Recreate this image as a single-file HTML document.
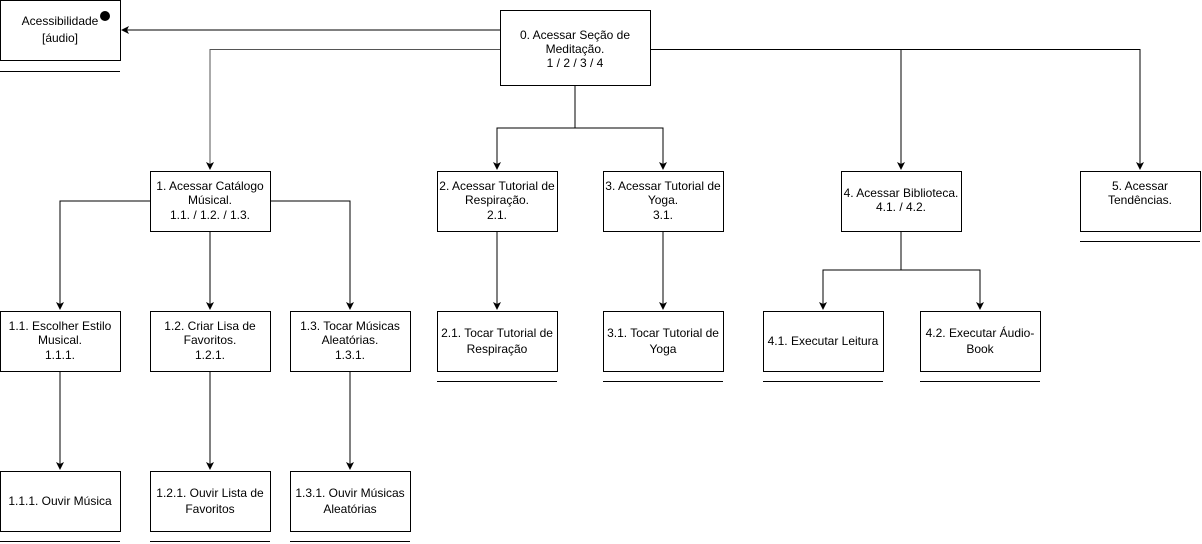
<!DOCTYPE html>
<html><head><meta charset="utf-8"><style>
body{margin:0;background:#fff;}
svg{display:block;font-family:"Liberation Sans",Arial,sans-serif;font-size:12px;}
</style></head><body>
<svg width="1202" height="544" viewBox="0 0 1202 544" xmlns="http://www.w3.org/2000/svg">
<defs><marker id="a" markerWidth="8" markerHeight="8" refX="7" refY="4" orient="auto" markerUnits="userSpaceOnUse"><path d="M0,0 L8,4 L0,8 L2,4 z" fill="#000"/></marker></defs>
<g fill="none" stroke="#000" stroke-width="1">
<path d="M500,30 H122" marker-end="url(#a)"/>
<path d="M500,49.5 H210 V169" marker-end="url(#a)" stroke="#555"/>
<path d="M650,49.5 H1140 V169" marker-end="url(#a)"/>
<path d="M901,49.5 V169" marker-end="url(#a)"/>
<path d="M575,85 V128 H497 V169" marker-end="url(#a)"/>
<path d="M575,128 H663 V169" marker-end="url(#a)"/>
<path d="M150,201 H60 V309" marker-end="url(#a)"/>
<path d="M270,201 H350 V309" marker-end="url(#a)"/>
<path d="M210,231 V309" marker-end="url(#a)"/>
<path d="M60,371 V469" marker-end="url(#a)"/>
<path d="M210,371 V469" marker-end="url(#a)"/>
<path d="M350,371 V469" marker-end="url(#a)"/>
<path d="M497,231 V309" marker-end="url(#a)"/>
<path d="M663,231 V309" marker-end="url(#a)"/>
<path d="M901,231 V270 H823 V309" marker-end="url(#a)"/>
<path d="M901,270 H980 V309" marker-end="url(#a)"/>
</g>
<g fill="#fff" stroke="#000">
<rect x="0.5" y="0.5" width="120" height="60"/>
<rect x="500.5" y="10.5" width="150" height="75"/>
<rect x="150.5" y="171.5" width="120" height="60"/>
<rect x="437.5" y="171.5" width="120" height="60"/>
<rect x="603.5" y="171.5" width="120" height="60"/>
<rect x="841.5" y="171.5" width="120" height="60"/>
<rect x="1080.5" y="171.5" width="120" height="60"/>
<rect x="0.5" y="311.5" width="120" height="60"/>
<rect x="150.5" y="311.5" width="120" height="60"/>
<rect x="290.5" y="311.5" width="120" height="60"/>
<rect x="437.5" y="311.5" width="120" height="60"/>
<rect x="603.5" y="311.5" width="120" height="60"/>
<rect x="763.5" y="311.5" width="120" height="60"/>
<rect x="920.5" y="311.5" width="120" height="60"/>
<rect x="0.5" y="471.5" width="120" height="60"/>
<rect x="150.5" y="471.5" width="120" height="60"/>
<rect x="290.5" y="471.5" width="120" height="60"/>
</g>
<g stroke="#000">
<path d="M0,71.5H120M1080,241.5H1200M437,381.5H557M603,381.5H723M763,381.5H883M920,381.5H1040M0,541.5H120M150,541.5H270M290,541.5H410"/>
</g>
<circle cx="105" cy="16" r="5" fill="#000"/>
<g text-anchor="middle" fill="#000">
<text x="60" y="25">Acessibilidade</text><text x="60" y="42">[áudio]</text>
<text x="575" y="39">0. Acessar Seção de</text><text x="575" y="53">Meditação.</text><text x="575" y="67">1 / 2 / 3 / 4</text>
<text x="210" y="190">1. Acessar Catálogo</text><text x="210" y="204">Músical.</text><text x="210" y="219">1.1. / 1.2. / 1.3.</text>
<text x="497" y="190">2. Acessar Tutorial de</text><text x="497" y="204">Respiração.</text><text x="497" y="219">2.1.</text>
<text x="663" y="190">3. Acessar Tutorial de</text><text x="663" y="204">Yoga.</text><text x="663" y="219">3.1.</text>
<text x="901" y="197">4. Acessar Biblioteca.</text><text x="901" y="211">4.1. / 4.2.</text>
<text x="1140" y="190">5. Acessar</text><text x="1140" y="204">Tendências.</text>
<text x="60" y="330">1.1. Escolher Estilo</text><text x="60" y="344">Musical.</text><text x="60" y="359">1.1.1.</text>
<text x="210" y="330">1.2. Criar Lisa de</text><text x="210" y="344">Favoritos.</text><text x="210" y="359">1.2.1.</text>
<text x="350" y="330">1.3. Tocar Músicas</text><text x="350" y="344">Aleatórias.</text><text x="350" y="359">1.3.1.</text>
<text x="497" y="337">2.1. Tocar Tutorial de</text><text x="497" y="353">Respiração</text>
<text x="663" y="337">3.1. Tocar Tutorial de</text><text x="663" y="353">Yoga</text>
<text x="823" y="345">4.1. Executar Leitura</text>
<text x="980" y="337">4.2. Executar Áudio-</text><text x="980" y="353">Book</text>
<text x="60" y="505">1.1.1. Ouvir Música</text>
<text x="210" y="497">1.2.1. Ouvir Lista de</text><text x="210" y="513">Favoritos</text>
<text x="350" y="497">1.3.1. Ouvir Músicas</text><text x="350" y="513">Aleatórias</text>
</g>
</svg>
</body></html>
